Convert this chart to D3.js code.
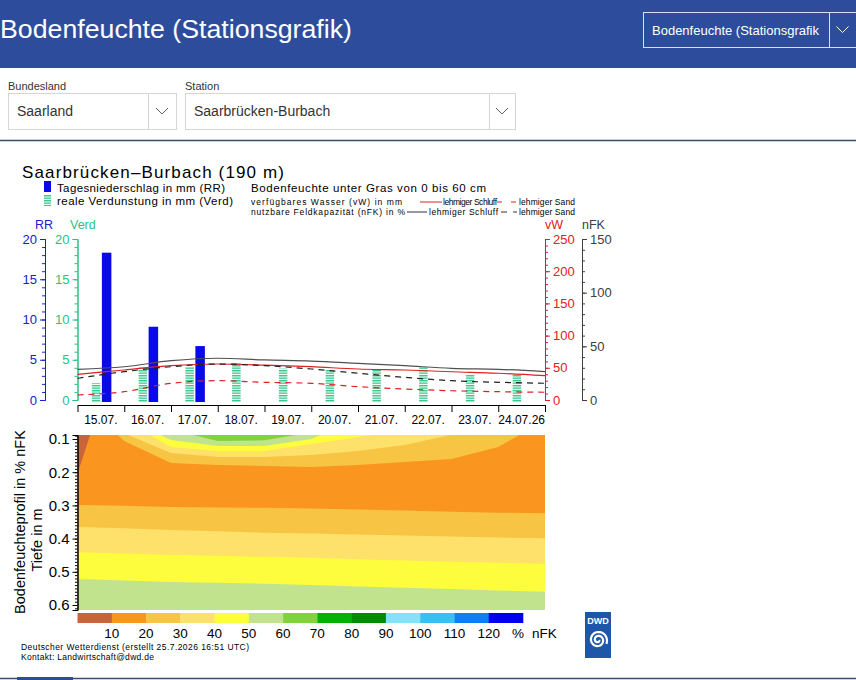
<!DOCTYPE html>
<html>
<head>
<meta charset="utf-8">
<script src="https://cdn.jsdelivr.net/npm/d3@7"></script>
<style>
  body { margin: 0; background: #fff; overflow: hidden; }
  svg { display: block; }
  text { font-family: "Liberation Sans", Arial, sans-serif; }
</style>
</head>
<body>
<svg id="page" width="856" height="680"></svg>
<script>
// ---- data read from the station graphic ----
var dayLabels = ["15.07.", "16.07.", "17.07.", "18.07.", "19.07.", "20.07.", "21.07.", "22.07.", "23.07.", "24.07.26"];
var rr = [18.3, 9.1, 6.7, 0, 0, 0, 0, 0, 0, 0];          // Tagesniederschlag mm
var verd = [2.1, 4.1, 4.1, 4.6, 3.9, 3.8, 3.8, 4.1, 3.1, 3.2]; // reale Verdunstung mm

// values at day boundaries 15.07. 00 UTC ... 25.07.
var vwSchluff = [39.9, 46.6, 53.3, 55.9, 54.3, 51.7, 48.1, 46.6, 43.9, 41.5, 37.7];
var vwSand = [7.8, 12.9, 25.9, 30.0, 27.5, 25.9, 20.7, 17.1, 14.4, 12.9, 12.0];
var nfkSchluff = [28.6, 31.0, 36.6, 38.9, 37.3, 36.3, 34.2, 32.0, 29.5, 28.6, 26.4];
var nfkSand = [20.2, 26.4, 31.0, 33.5, 32.0, 28.9, 24.9, 21.1, 18.0, 16.5, 15.6];

// soil profile: depth (m) of the nFK class borders, [day, depth]
var upper10 = [[0, 0.205], [0.27, 0.088]];
var upper20 = [[0.86, 0.088], [1, 0.106], [2, 0.172], [3, 0.178], [4, 0.181], [5, 0.184], [6, 0.178], [7, 0.169], [8, 0.160], [9, 0.124], [9.45, 0.088]];
var upper30 = [[1.08, 0.088], [2, 0.142], [3, 0.154], [4, 0.154], [5, 0.148], [6, 0.136], [7, 0.118], [7.97, 0.088]];
var upper40 = [[1.55, 0.088], [2, 0.124], [3, 0.136], [4, 0.136], [5, 0.115], [6, 0.095], [6.3, 0.088]];
var upper50 = [[1.77, 0.088], [2, 0.103], [3, 0.121], [4, 0.121], [5, 0.100], [5.2, 0.088]];
var upper60 = [[2.48, 0.088], [3, 0.106], [4, 0.104], [4.67, 0.088]];
// borders below the dry layer, one depth per day boundary
var lower20 = [0.299, 0.301, 0.305, 0.306, 0.307, 0.309, 0.312, 0.315, 0.319, 0.322, 0.324];
var lower30 = [0.365, 0.369, 0.374, 0.378, 0.382, 0.385, 0.388, 0.391, 0.394, 0.397, 0.399];
var lower40 = [0.441, 0.445, 0.449, 0.452, 0.455, 0.458, 0.462, 0.466, 0.470, 0.473, 0.476];
var lower50 = [0.522, 0.526, 0.531, 0.533, 0.536, 0.540, 0.544, 0.548, 0.552, 0.556, 0.560];

var classLabels = ["10", "20", "30", "40", "50", "60", "70", "80", "90", "100", "110", "120"];
var classColors = ["#c8643a", "#fa951f", "#f8c443", "#fde16a", "#fdfd3e", "#c1e38e", "#80d33a", "#00b300", "#008e00", "#86e2f8", "#34c2f4", "#0b80f2", "#0000ee"];

var svg = d3.select("#page");

// ---- page header ----
svg.append("rect").attr("x", 0).attr("y", 0).attr("width", 856).attr("height", 68).attr("fill", "#2d4d9c");
svg.append("text")
  .attr("x", 0).attr("y", 38)
  .attr("fill", "#fff")
  .style("font-size", "26px")
  .attr("textLength", 352).attr("lengthAdjust", "spacingAndGlyphs")
  .text("Bodenfeuchte (Stationsgrafik)");

function chevron(x, y, col) {
  svg.append("path")
    .attr("d", "M" + (x - 6) + "," + (y - 3) + "L" + x + "," + (y + 3) + "L" + (x + 6) + "," + (y - 3))
    .attr("fill", "none").attr("stroke", col).attr("stroke-width", 1);
}

function dropDown(x, y, w, h, divX, txt, col, border, size) {
  svg.append("rect").attr("x", x + 0.5).attr("y", y + 0.5).attr("width", w).attr("height", h)
    .attr("fill", "none").attr("stroke", border);
  svg.append("line").attr("x1", divX + 0.5).attr("x2", divX + 0.5).attr("y1", y).attr("y2", y + h)
    .attr("stroke", border);
  svg.append("text").attr("x", x + 9).attr("y", y + h / 2 + 5).attr("fill", col)
    .style("font-size", size).text(txt);
  chevron(divX + (x + w - divX) / 2, y + h / 2, col === "#fff" ? "#fff" : "#666");
}

dropDown(643, 12, 213, 35, 829, "Bodenfeuchte (Stationsgrafik", "#fff", "#d8e0f0", "13px");
svg.append("text").attr("x", 8).attr("y", 90).style("font-size", "11px").attr("fill", "#333").text("Bundesland");
svg.append("text").attr("x", 185).attr("y", 90).style("font-size", "11px").attr("fill", "#333").text("Station");
dropDown(8, 93, 168, 36, 148, "Saarland", "#333", "#d6d6d6", "14px");
dropDown(185, 93, 330, 36, 489, "Saarbrücken-Burbach", "#333", "#d6d6d6", "14px");
svg.append("line").attr("x1", 0).attr("x2", 856).attr("y1", 140.5).attr("y2", 140.5)
  .attr("stroke", "#3b4c6e").attr("stroke-width", 1.5);
svg.append("line").attr("x1", 0).attr("x2", 856).attr("y1", 678.5).attr("y2", 678.5)
  .attr("stroke", "#3b4c6e").attr("stroke-width", 1.5);
svg.append("line").attr("x1", 17).attr("x2", 73).attr("y1", 678.5).attr("y2", 678.5)
  .attr("stroke", "#2d4d9c").attr("stroke-width", 3);

// ---- chart titles and legend ----
var chartFont = "'Liberation Sans', Arial, sans-serif";
svg.append("text").attr("x", 22).attr("y", 178).style("font-size", "17px")
  .attr("textLength", 262).text("Saarbrücken–Burbach (190 m)");

var defs = svg.append("defs");
defs.append("pattern").attr("id", "hatch")
  .attr("patternUnits", "userSpaceOnUse").attr("width", 6).attr("height", 2.5)
  .append("rect").attr("width", 6).attr("height", 1.4).attr("fill", "#36c68a");

svg.append("rect").attr("x", 44).attr("y", 181).attr("width", 7).attr("height", 11).attr("fill", "#0a0ae8");
svg.append("rect").attr("x", 44).attr("y", 195).attr("width", 7).attr("height", 11).attr("fill", "url(#hatch)");
svg.append("text").attr("x", 57).attr("y", 192).style("font-size", "11.5px").attr("textLength", 168).text("Tagesniederschlag in mm (RR)");
svg.append("text").attr("x", 57).attr("y", 205).style("font-size", "11.5px").attr("textLength", 176).text("reale Verdunstung in mm (Verd)");
svg.append("text").attr("x", 251).attr("y", 192).style("font-size", "11.5px").attr("textLength", 235).text("Bodenfeuchte unter Gras von 0 bis 60 cm");

var small = "8.5px";
svg.append("text").attr("x", 251).attr("y", 204.5).style("font-size", small).attr("textLength", 151).text("verfügbares Wasser (vW) in mm");
svg.append("line").attr("x1", 420).attr("x2", 442).attr("y1", 202).attr("y2", 202).attr("stroke", "#e02020");
svg.append("text").attr("x", 443).attr("y", 204.5).style("font-size", small).attr("textLength", 54).text("lehmiger Schluff");
svg.append("line").attr("x1", 497).attr("x2", 517).attr("y1", 202).attr("y2", 202).attr("stroke", "#e02020").attr("stroke-dasharray", "5,9");
svg.append("text").attr("x", 519).attr("y", 204.5).style("font-size", small).attr("textLength", 56).text("lehmiger Sand");
svg.append("text").attr("x", 251).attr("y", 214.5).style("font-size", small).attr("textLength", 154).text("nutzbare Feldkapazität (nFK) in %");
svg.append("line").attr("x1", 407).attr("x2", 427).attr("y1", 212).attr("y2", 212).attr("stroke", "#333");
svg.append("text").attr("x", 429).attr("y", 214.5).style("font-size", small).attr("textLength", 69).text("lehmiger Schluff");
svg.append("line").attr("x1", 501).attr("x2", 517).attr("y1", 212).attr("y2", 212).attr("stroke", "#333").attr("stroke-dasharray", "6,6");
svg.append("text").attr("x", 519).attr("y", 214.5).style("font-size", small).attr("textLength", 56).text("lehmiger Sand");

// ---- upper chart: scales and axes ----
var xDay = d3.scaleLinear().domain([0, 10]).range([77.5, 545]);
var yRR = d3.scaleLinear().domain([0, 20]).range([400, 239]);
var yVerd = d3.scaleLinear().domain([0, 20]).range([400, 239]);
var yVW = d3.scaleLinear().domain([0, 250]).range([400, 239]);
var yNFK = d3.scaleLinear().domain([0, 150]).range([400, 239]);

function styleAxis(g, col, size) {
  g.attr("color", col).attr("font-family", chartFont).attr("font-size", size);
  g.selectAll("path, line").attr("stroke-width", 1);
}

function valueAxis(x, scale, side, col, major, minor) {
  var mk = side === "left" ? d3.axisLeft : d3.axisRight;
  var gMin = svg.append("g").attr("transform", "translate(" + x + ",0)")
    .call(mk(scale).tickValues(minor).tickSize(3).tickFormat("").tickSizeOuter(0));
  styleAxis(gMin, col, 13);
  var gMaj = svg.append("g").attr("transform", "translate(" + x + ",0)")
    .call(mk(scale).tickValues(major).tickSize(5).tickPadding(3).tickSizeOuter(5));
  styleAxis(gMaj, col, 13);
  return gMaj;
}

valueAxis(45, yRR, "left", "#2020c8", [0, 5, 10, 15, 20], d3.range(0, 21, 1));
valueAxis(77.5, yVerd, "left", "#2cc080", [0, 5, 10, 15, 20], d3.range(0, 21, 1));
valueAxis(545, yVW, "right", "#e02020", [0, 50, 100, 150, 200, 250], d3.range(0, 251, 10));
valueAxis(582, yNFK, "right", "#404040", [0, 50, 100, 150], d3.range(0, 151, 10));

svg.append("text").attr("x", 44).attr("y", 229).attr("text-anchor", "middle").style("font-size", "12.5px").attr("fill", "#2020c8").text("RR");
svg.append("text").attr("x", 70).attr("y", 229).style("font-size", "12.5px").attr("fill", "#2cc080").text("Verd");
svg.append("text").attr("x", 545).attr("y", 229).style("font-size", "12.5px").attr("fill", "#e02020").text("vW");
svg.append("text").attr("x", 582).attr("y", 229).style("font-size", "12.5px").attr("fill", "#404040").text("nFK");

var gX = svg.append("g").attr("transform", "translate(0,405)")
  .call(d3.axisBottom(xDay).tickValues(d3.range(0, 11, 1)).tickSize(7).tickSizeOuter(0).tickFormat(""));
styleAxis(gX, "#000", 12);
svg.append("g").selectAll("text").data(dayLabels).join("text")
  .attr("x", (d, i) => xDay(i + 0.5))
  .attr("y", 424)
  .attr("text-anchor", "middle")
  .style("font-size", "12px")
  .text((d) => d);

// bars
svg.append("g").selectAll("rect").data(verd).join("rect")
  .attr("x", (d, i) => xDay(i + 0.5) - 9)
  .attr("width", 8.5)
  .attr("y", (d) => yVerd(d))
  .attr("height", (d) => yVerd(0) - yVerd(d) + 2)
  .attr("fill", "url(#hatch)");
svg.append("g").selectAll("rect").data(rr).join("rect")
  .attr("x", (d, i) => xDay(i + 0.5) + 1)
  .attr("width", 9.5)
  .attr("y", (d) => yRR(d))
  .attr("height", (d) => yRR(0) - yRR(d) + 2)
  .attr("fill", "#0a0ae8")
  .style("display", (d) => (d > 0 ? null : "none"));

// soil water lines
function soilLine(data, scale, col, dash) {
  svg.append("path").datum(data)
    .attr("d", d3.line().x((d, i) => xDay(i)).y((d) => scale(d)).curve(d3.curveMonotoneX))
    .attr("fill", "none").attr("stroke", col).attr("stroke-width", 1.2)
    .attr("stroke-dasharray", dash);
}
soilLine(nfkSchluff, yNFK, "#505050", null);
soilLine(vwSchluff, yVW, "#e02020", null);
soilLine(nfkSand, yNFK, "#222", "6,5");
soilLine(vwSand, yVW, "#e02020", "6,5");

// ---- lower chart: soil moisture profile ----
var depthTop = 0.088, depthBottom = 0.615;
var yDepth = d3.scaleLinear().domain([depthTop, depthBottom]).range([435, 610]);

defs.append("clipPath").attr("id", "profileClip")
  .append("rect").attr("x", xDay(0)).attr("y", yDepth(depthTop))
  .attr("width", xDay(10) - xDay(0)).attr("height", yDepth(depthBottom) - yDepth(depthTop));

var prof = svg.append("g").attr("clip-path", "url(#profileClip)");
prof.append("rect").attr("x", xDay(0)).attr("y", yDepth(depthTop))
  .attr("width", xDay(10) - xDay(0)).attr("height", yDepth(depthBottom) - yDepth(depthTop))
  .attr("fill", classColors[1]);

var lowerArea = d3.area().x((d, i) => xDay(i)).y0((d) => yDepth(d)).y1(yDepth(depthBottom));
[[lower20, 2], [lower30, 3], [lower40, 4], [lower50, 5]].forEach(function (b) {
  prof.append("path").datum(b[0]).attr("d", lowerArea).attr("fill", classColors[b[1]]);
});

var upperArea = d3.area().x((d) => xDay(d[0])).y0(yDepth(depthTop)).y1((d) => yDepth(d[1]));
[[upper20, 2], [upper30, 3], [upper40, 4], [upper50, 5], [upper60, 6], [upper10, 0]].forEach(function (b) {
  prof.append("path").datum(b[0]).attr("d", upperArea).attr("fill", classColors[b[1]]);
});

var gDmin = svg.append("g").attr("transform", "translate(77.5,0)")
  .call(d3.axisLeft(yDepth).tickValues(d3.range(9, 62, 1).map((v) => v / 100)).tickSize(2.5).tickFormat("").tickSizeOuter(0));
styleAxis(gDmin, "#000", 14);
var gD = svg.append("g").attr("transform", "translate(77.5,0)")
  .call(d3.axisLeft(yDepth).tickValues([0.1, 0.2, 0.3, 0.4, 0.5, 0.6]).tickSize(5).tickPadding(3).tickSizeOuter(5).tickFormat(d3.format(".1f")));
styleAxis(gD, "#000", 15);

svg.append("text").attr("transform", "translate(25,522) rotate(-90)").attr("text-anchor", "middle")
  .style("font-size", "14.5px").text("Bodenfeuchteprofil in % nFK");
svg.append("text").attr("transform", "translate(42,540) rotate(-90)").attr("text-anchor", "middle")
  .style("font-size", "14.5px").text("Tiefe in m");

// colour legend
var xClass = d3.scaleLinear().domain([0, classColors.length]).range([77.5, 523]);
svg.append("g").selectAll("rect").data(classColors).join("rect")
  .attr("x", (d, i) => xClass(i))
  .attr("width", (d, i) => xClass(i + 1) - xClass(i) + 0.3)
  .attr("y", 613).attr("height", 10)
  .attr("fill", (d) => d);
svg.append("g").selectAll("text").data(classLabels).join("text")
  .attr("x", (d, i) => xClass(i + 1))
  .attr("y", 638)
  .attr("text-anchor", "middle")
  .style("font-size", "13.5px")
  .text((d) => d);
svg.append("text").attr("x", 518).attr("y", 638).attr("text-anchor", "middle").style("font-size", "13.5px").text("%");
svg.append("text").attr("x", 532).attr("y", 638).style("font-size", "13.5px").text("nFK");

svg.append("text").attr("x", 21).attr("y", 650).style("font-size", "8.5px").attr("textLength", 228)
  .text("Deutscher Wetterdienst (erstellt 25.7.2026 16:51 UTC)");
svg.append("text").attr("x", 21).attr("y", 660).style("font-size", "8.5px").attr("textLength", 133)
  .text("Kontakt: Landwirtschaft@dwd.de");

// DWD logo
svg.append("rect").attr("x", 585).attr("y", 612).attr("width", 26).attr("height", 46).attr("fill", "#1f57a8");
svg.append("text").attr("x", 598).attr("y", 624).attr("text-anchor", "middle").attr("fill", "#fff")
  .style("font-size", "9px").style("font-weight", "bold").text("DWD");
var spiral = d3.range(0, 4.2 * Math.PI, 0.2).map(function (t) {
  var r = 1.2 + t * 0.62;
  return [598 + r * Math.cos(t), 640 + r * Math.sin(t)];
});
svg.append("path").attr("d", d3.line()(spiral)).attr("fill", "none").attr("stroke", "#fff").attr("stroke-width", 2.2);
</script>
</body>
</html>
